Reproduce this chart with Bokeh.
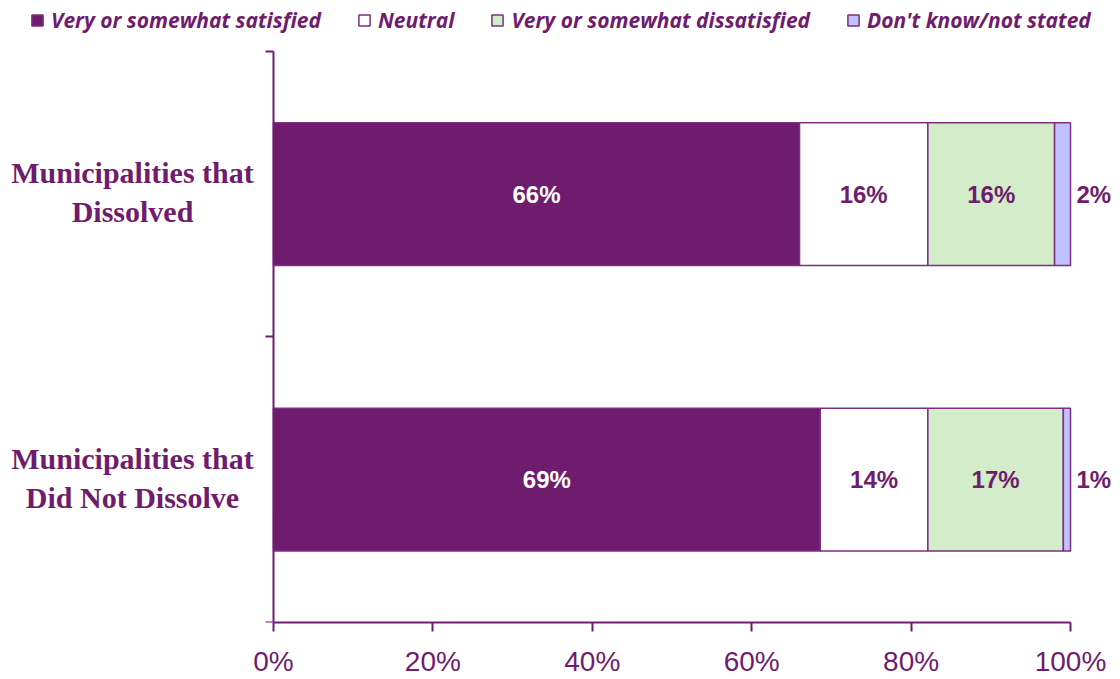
from bokeh.plotting import figure
from bokeh.models import (ColumnDataSource, Range1d, FixedTicker, PrintfTickFormatter,
                          LabelSet, Legend, LegendItem)
from bokeh.core.properties import value
from bokeh.embed import file_html
from bokeh.resources import INLINE

# ---- data ----
categories = ["Municipalities that\nDid Not Dissolve", "Municipalities that\nDissolved"]
positions = [0.5, 1.5]
series_names = ["Very or somewhat satisfied", "Neutral",
                "Very or somewhat dissatisfied", "Don't know/not stated"]
satisfied = [68.6, 66.0]
neutral = [13.5, 16.1]
dissatisfied = [17.0, 15.9]
dont_know = [0.9, 2.0]
x_ticks = [0, 20, 40, 60, 80, 100]

PURPLE = "#6f1c6e"
EDGE = "#7e2f7e"
colors = [PURPLE, "#ffffff", "#d3ecca", "#c0c0ff"]
keys = ["satisfied", "neutral", "dissatisfied", "dont_know"]

src = ColumnDataSource(dict(y=positions, satisfied=satisfied, neutral=neutral,
                            dissatisfied=dissatisfied, dont_know=dont_know))

W, H = 1120, 679
p = figure(width=W, height=H, output_backend="svg", toolbar_location=None,
           x_range=Range1d(-34.25, 106.27), y_range=Range1d(0, 2.1786),
           min_border_left=0, min_border_right=0, min_border_top=0,
           min_border_bottom=57)
p.outline_line_color = None
p.xgrid.visible = False
p.ygrid.visible = False

renderers = p.hbar_stack(keys, y="y", height=0.5, source=src, color=colors,
                         line_color=EDGE, line_width=1.5)

# ---- segment labels ----
lx, ly, lt, lc, la, lo = [], [], [], [], [], []
series = [satisfied, neutral, dissatisfied, dont_know]
text_colors = ["#ffffff", PURPLE, PURPLE, PURPLE]
for i, yv in enumerate(positions):
    left = 0.0
    for k, vals in enumerate(series):
        v = vals[i]
        if k == len(series) - 1:
            lx.append(left + v); la.append("left"); lo.append(6)
        else:
            lx.append(left + v / 2); la.append("center"); lo.append(0)
        ly.append(yv)
        lt.append(f"{round(v)}%")
        lc.append(text_colors[k])
        left += v
lab_src = ColumnDataSource(dict(x=lx, y=ly, text=lt, color=lc, align=la, off=lo))
p.add_layout(LabelSet(x="x", y="y", text="text", source=lab_src, text_color="color",
                      text_align="align", x_offset="off", text_baseline="middle",
                      text_font=value("Liberation Sans"), text_font_style="bold",
                      text_font_size="24px"))

# ---- category labels (each line centred) ----
cx, cy, ct, cyo = [], [], [], []
for cat, yv in zip(categories, positions):
    lines = cat.split("\n")
    n = len(lines)
    for j, line in enumerate(lines):
        cx.append(0); cy.append(yv); ct.append(line)
        cyo.append(((n - 1) / 2 - j) * 39 + 2)
cat_src = ColumnDataSource(dict(x=cx, y=cy, text=ct, yo=cyo))
p.add_layout(LabelSet(x="x", y="y", text="text", source=cat_src, x_offset=-141,
                      y_offset="yo", text_align="center", text_baseline="middle",
                      text_color=PURPLE, text_font=value("Liberation Serif"),
                      text_font_style="bold", text_font_size="30px"))

# ---- axes ----
xa = p.xaxis[0]
xa.bounds = (0, 100)
xa.ticker = FixedTicker(ticks=x_ticks)
xa.formatter = PrintfTickFormatter(format="%d%%")
xa.axis_line_color = PURPLE
xa.axis_line_width = 2
xa.major_tick_line_color = PURPLE
xa.major_tick_line_width = 2
xa.major_tick_in = 0
xa.major_tick_out = 9
xa.minor_tick_line_color = None
xa.major_label_text_color = PURPLE
xa.major_label_text_font = "Liberation Sans"
xa.major_label_text_font_size = "28px"
xa.major_label_standoff = 14

ya = p.yaxis[0]
ya.fixed_location = 0
ya.bounds = (0, 2)
ya.ticker = FixedTicker(ticks=[0, 1, 2])
ya.major_label_overrides = {0: "", 1: "", 2: ""}
ya.axis_line_color = PURPLE
ya.axis_line_width = 2
ya.major_tick_line_color = PURPLE
ya.major_tick_line_width = 2
ya.major_tick_in = 0
ya.major_tick_out = 8
ya.minor_tick_line_color = None

# ---- legend ----
items = [LegendItem(label=n, renderers=[r]) for n, r in zip(series_names, renderers)]
legend = Legend(items=items, orientation="horizontal", location=(30, 588),
                glyph_width=14, glyph_height=14, label_standoff=7, spacing=36,
                padding=0, margin=0, border_line_color=None,
                background_fill_alpha=0, label_text_color=PURPLE,
                label_text_font="Open Sans", label_text_font_style="bold italic",
                label_text_font_size="21px")
p.add_layout(legend, "center")

open("out.html", "w").write(file_html(p, INLINE))
